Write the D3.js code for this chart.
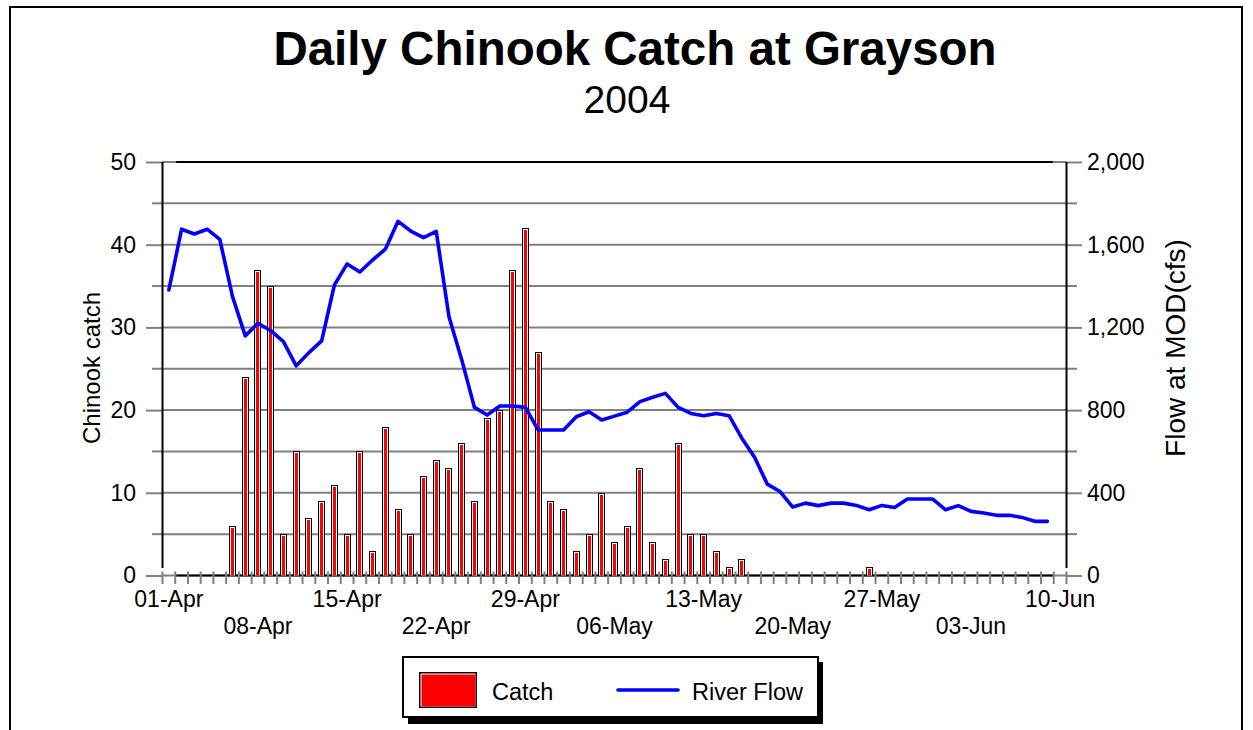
<!DOCTYPE html>
<html><head><meta charset="utf-8">
<script src="https://cdn.jsdelivr.net/npm/d3@7"></script>
<style>html,body{margin:0;padding:0;background:#fff;} svg{display:block;font-family:"Liberation Sans",Arial,sans-serif;}</style>
</head><body><svg id="chart" width="1253" height="730"></svg>
<script>
const titleText = "Daily Chinook Catch at Grayson";
const subtitleText = "2004";
const leftAxisTitle = "Chinook catch";
const rightAxisTitle = "Flow at MOD(cfs)";
const legendLabels = ["Catch", "River Flow"];
const days = d3.timeDay.range(new Date(2004, 3, 1), new Date(2004, 5, 11)).map(d3.timeFormat("%d-%b"));
const catchValues = [
  0, 0, 0, 0, 0, 6, 24, 37, 35, 5,
  15, 7, 9, 11, 5, 15, 3, 18, 8, 5,
  12, 14, 13, 16, 9, 19, 20, 37, 42, 27,
  9, 8, 3, 5, 10, 4, 6, 13, 4, 2,
  16, 5, 5, 3, 1, 2, 0, 0, 0, 0,
  0, 0, 0, 0, 0, 1, 0, 0, 0, 0,
  0, 0, 0, 0, 0, 0, 0, 0, 0, 0, 0
];
const flowValues = [
  1381, 1675, 1652, 1675, 1626, 1349, 1159, 1220, 1184, 1131,
  1014, 1078, 1135, 1405, 1507, 1468, 1526, 1578, 1713, 1666,
  1634, 1664, 1252, 1044, 813, 776, 820, 820, 813, 704,
  704, 704, 768, 792, 752, 771, 790, 841, 862, 881,
  813, 784, 773, 784, 773, 664, 572, 442, 406, 331,
  350, 338, 350, 350, 339, 318, 339, 329, 370, 370,
  370, 318, 338, 310, 302, 291, 291, 281, 262, 262, null
];
const xTickLabelsTop = ["01-Apr", "15-Apr", "29-Apr", "13-May", "27-May", "10-Jun"];
const xTickLabelsBottom = ["08-Apr", "22-Apr", "06-May", "20-May", "03-Jun"];
const leftTicks = [0, 10, 20, 30, 40, 50];
const leftMinorTicks = [5, 15, 25, 35, 45];
const rightTicks = [0, 400, 800, 1200, 1600, 2000];
const rightMinorTicks = [200, 600, 1000, 1400, 1800];

const svg = d3.select("#chart");
const L = 162.5, R = 1066.5, T = 162, B = 575.5;
const GRAY = "#808080";
const x = d3.scaleBand().domain(days).range([L, R]).padding(0);
const bw = x.bandwidth();
const yL = d3.scaleLinear().domain([0, 50]).range([B, T]);
const yR = d3.scaleLinear().domain([0, 2000]).range([B, T]);

// outer frame
svg.append("rect").attr("x", 10).attr("y", 7).attr("width", 1232).attr("height", 760)
  .attr("fill", "none").attr("stroke", "#000").attr("stroke-width", 2);

// titles
svg.append("text").attr("x", 635).attr("y", 65).attr("text-anchor", "middle")
  .attr("font-size", 47.5).attr("font-weight", "bold").text(titleText);
svg.append("text").attr("x", 627).attr("y", 113).attr("text-anchor", "middle")
  .attr("font-size", 39).text(subtitleText);

// gridlines
const gridVals = leftTicks.concat(leftMinorTicks);
svg.append("g").selectAll("line").data(gridVals).join("line")
  .attr("x1", L).attr("x2", R).attr("y1", d => yL(d)).attr("y2", d => yL(d))
  .attr("stroke", GRAY).attr("stroke-width", 2);

// left axis
const gLeft = svg.append("g").attr("transform", `translate(${L},0)`)
  .call(d3.axisLeft(yL).tickValues(leftTicks).tickSize(16.5).tickPadding(10));
gLeft.select(".domain").remove();
gLeft.selectAll(".tick line").attr("stroke", GRAY).attr("stroke-width", 2);
gLeft.selectAll(".tick text").attr("font-size", 23).attr("fill", "#000")
  .attr("font-family", "Liberation Sans, Arial, sans-serif");
svg.append("g").selectAll("line").data(leftMinorTicks).join("line")
  .attr("x1", L - 10.5).attr("x2", L).attr("y1", d => yL(d)).attr("y2", d => yL(d))
  .attr("stroke", GRAY).attr("stroke-width", 2);

// right axis
const gRight = svg.append("g").attr("transform", `translate(${R},0)`)
  .call(d3.axisRight(yR).tickValues(rightTicks).tickSize(15.5).tickPadding(5).tickFormat(d3.format(",")));
gRight.select(".domain").remove();
gRight.selectAll(".tick line").attr("stroke", GRAY).attr("stroke-width", 2);
gRight.selectAll(".tick text").attr("font-size", 23).attr("fill", "#000")
  .attr("font-family", "Liberation Sans, Arial, sans-serif");
svg.append("g").selectAll("line").data(rightMinorTicks).join("line")
  .attr("x1", R).attr("x2", R + 10.5).attr("y1", d => yR(d)).attr("y2", d => yR(d))
  .attr("stroke", GRAY).attr("stroke-width", 2);

// black top/bottom lines
[T, B].forEach(yy => {
  svg.append("line").attr("x1", x(days[1]) + 1).attr("x2", x(days[69]) + bw - 1)
    .attr("y1", yy).attr("y2", yy).attr("stroke", "#000").attr("stroke-width", 2);
});

// bars
const barW = 7;
const barsG = svg.append("g");
catchValues.forEach((v, i) => {
  if (!v) return;
  const cx = x(days[i]) + bw / 2;
  const bx = Math.round(cx - barW / 2);
  const by = Math.round(yL(v));
  const h = B - by;
  barsG.append("rect").attr("x", bx).attr("y", by).attr("width", barW).attr("height", h).attr("fill", "#000");
  barsG.append("rect").attr("x", bx + 1).attr("y", by + 1).attr("width", barW - 2).attr("height", h - 1).attr("fill", "#fff");
  barsG.append("rect").attr("x", bx + 2).attr("y", by + 2).attr("width", barW - 4).attr("height", Math.max(0, h - 2)).attr("fill", "#ff0000");
});

// x ticks at band boundaries
const boundaries = days.map(d => x(d)).concat([R]);
svg.append("g").selectAll("line").data(boundaries).join("line")
  .attr("x1", d => d).attr("x2", d => d).attr("y1", 571.5).attr("y2", 584)
  .attr("stroke", GRAY).attr("stroke-width", 2);

// vertical axis lines
svg.append("line").attr("x1", L).attr("x2", L).attr("y1", T).attr("y2", 568).attr("stroke", "#000").attr("stroke-width", 2);
svg.append("line").attr("x1", R).attr("x2", R).attr("y1", T).attr("y2", 568).attr("stroke", "#000").attr("stroke-width", 2);

// x tick labels
svg.append("g").selectAll("text").data(xTickLabelsTop).join("text")
  .attr("x", d => x(d) + bw / 2).attr("y", 607).attr("text-anchor", "middle")
  .attr("font-size", 23).text(d => d);
svg.append("g").selectAll("text").data(xTickLabelsBottom).join("text")
  .attr("x", d => x(d) + bw / 2).attr("y", 634).attr("text-anchor", "middle")
  .attr("font-size", 23).text(d => d);

// flow line
const line = d3.line().defined(d => d != null)
  .x((d, i) => x(days[i]) + bw / 2).y(d => yR(d));
svg.append("path").datum(flowValues).attr("d", line)
  .attr("fill", "none").attr("stroke", "#0000ff").attr("stroke-width", 3.6)
  .attr("stroke-linejoin", "round").attr("stroke-linecap", "round");

// axis titles
svg.append("text").attr("transform", "translate(100,368) rotate(-90)").attr("text-anchor", "middle")
  .attr("font-size", 24).text(leftAxisTitle);
svg.append("text").attr("transform", "translate(1185,348) rotate(-90)").attr("text-anchor", "middle")
  .attr("font-size", 28).text(rightAxisTitle);

// legend
const lg = svg.append("g");
lg.append("rect").attr("x", 408).attr("y", 662).attr("width", 415).attr("height", 62).attr("fill", "#000");
lg.append("rect").attr("x", 403).attr("y", 657).attr("width", 415).attr("height", 60)
  .attr("fill", "#fff").attr("stroke", "#000").attr("stroke-width", 2);
lg.append("rect").attr("x", 419).attr("y", 672).attr("width", 58).attr("height", 36).attr("fill", "#000");
lg.append("rect").attr("x", 420.5).attr("y", 673.5).attr("width", 55).attr("height", 33).attr("fill", "#fff");
lg.append("rect").attr("x", 421.5).attr("y", 674.5).attr("width", 54).attr("height", 32).attr("fill", "#ff0000");
lg.append("text").attr("x", 492).attr("y", 700).attr("font-size", 23.5).text(legendLabels[0]);
lg.append("line").attr("x1", 618).attr("x2", 678).attr("y1", 690).attr("y2", 690)
  .attr("stroke", "#0000ff").attr("stroke-width", 3.6).attr("stroke-linecap", "round");
lg.append("text").attr("x", 692).attr("y", 700).attr("font-size", 23.5).text(legendLabels[1]);
</script></body></html>
